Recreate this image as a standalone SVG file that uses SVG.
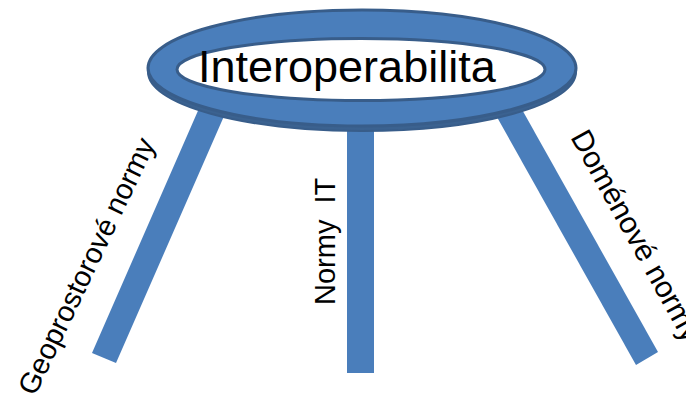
<svg xmlns="http://www.w3.org/2000/svg" width="686" height="393" viewBox="0 0 686 393">
  <style>
    .leg { fill: #4a7ebb; }
    .side { fill: #3b6290; stroke: #385d8a; stroke-width: 2; }
    .rim { fill: #4a7ebb; stroke: #385d8a; stroke-width: 3; }
    .hole { fill: #ffffff; stroke: #385d8a; stroke-width: 3; }
    .label { font-family: "Liberation Sans", Arial, sans-serif; fill: #000000; white-space: pre; }
  </style>
  <rect width="686" height="393" fill="#ffffff"/>

  <!-- legs of the stool -->
  <g id="legs">
    <polygon id="leg-left" class="leg" points="92,353 116,363 226.7,110 202.7,100"/>
    <rect id="leg-middle" class="leg" x="347" y="100" width="27" height="273"/>
    <polygon id="leg-right" class="leg" points="636,365 658,352 513,93.5 491,106.5"/>
  </g>

  <!-- ring seat: dark under-side, top face, white hole -->
  <g id="ring">
    <ellipse class="side" cx="362" cy="72" rx="214" ry="59"/>
    <ellipse class="rim" cx="362" cy="68" rx="214" ry="58"/>
    <ellipse class="hole" cx="361" cy="69.5" rx="184" ry="31"/>
    <text class="label" x="198" y="82" font-size="45">Interoperabilita</text>
  </g>

  <!-- leg labels -->
  <g id="label-left">
    <text class="label" font-size="29" transform="translate(35,397) rotate(-64.5)">Geoprostorové normy</text>
  </g>
  <g id="label-middle">
    <text class="label" font-size="29" transform="translate(335,305) rotate(-90)">Normy  IT</text>
  </g>
  <g id="label-right">
    <text class="label" font-size="30" transform="translate(570,137) rotate(61)">Doménové normy</text>
  </g>
</svg>
